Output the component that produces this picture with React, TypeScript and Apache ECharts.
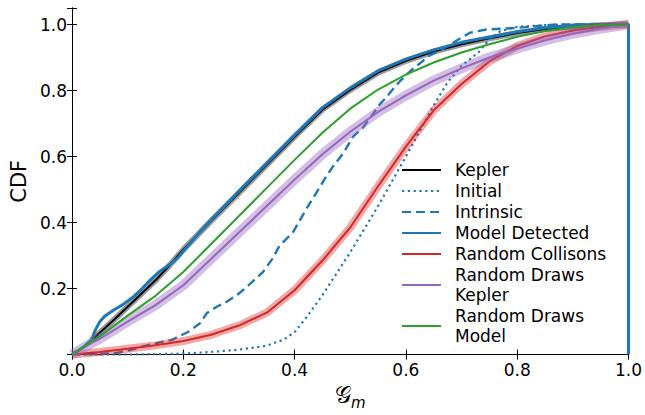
import { useEffect, useRef } from 'react';
import * as echarts from 'echarts';

const FONT = 'DejaVu Sans';

// Tick labels
const xTicks = ['0.0', '0.2', '0.4', '0.6', '0.8', '1.0'];
const yTicks = ['0.2', '0.4', '0.6', '0.8', '1.0'];

// Kepler (black) with grey uncertainty band
const keplerX = [0.035, 0.05, 0.075, 0.1, 0.125, 0.15, 0.175, 0.2, 0.25, 0.3, 0.35, 0.4, 0.45, 0.5, 0.55, 0.6, 0.65, 0.7, 0.75, 0.8, 0.85, 0.9, 0.95, 1.0];
const keplerY = [0.043, 0.066, 0.105, 0.145, 0.185, 0.225, 0.27, 0.318, 0.405, 0.49, 0.575, 0.66, 0.742, 0.802, 0.854, 0.89, 0.918, 0.94, 0.958, 0.974, 0.986, 0.994, 0.998, 1.0];

// Initial (dotted)
const initialX = [0, 0.1, 0.2, 0.25, 0.3, 0.35, 0.38, 0.4, 0.42, 0.45, 0.5, 0.55, 0.6, 0.65, 0.675, 0.7, 0.73, 0.75, 0.77, 0.8, 0.85, 0.9, 1.0];
const initialY = [0, 0.0, 0.003, 0.008, 0.015, 0.027, 0.045, 0.068, 0.11, 0.18, 0.31, 0.45, 0.6, 0.755, 0.825, 0.875, 0.915, 0.955, 0.98, 0.993, 0.998, 1.0, 1.0];

// Intrinsic (dashed)
const intrinsicX = [0, 0.05, 0.08, 0.1, 0.14, 0.18, 0.21, 0.23, 0.242, 0.26, 0.278, 0.3, 0.32, 0.343, 0.36, 0.373, 0.397, 0.421, 0.439, 0.457, 0.469, 0.487, 0.505, 0.523, 0.54, 0.553, 0.565, 0.583, 0.6, 0.613, 0.643, 0.665, 0.685, 0.715, 0.745, 0.8, 0.87, 1.0];
const intrinsicY = [0, 0.002, 0.005, 0.012, 0.03, 0.045, 0.07, 0.095, 0.125, 0.145, 0.16, 0.185, 0.214, 0.25, 0.29, 0.33, 0.37, 0.441, 0.49, 0.54, 0.57, 0.609, 0.66, 0.688, 0.727, 0.758, 0.78, 0.817, 0.846, 0.866, 0.906, 0.925, 0.945, 0.975, 0.985, 0.99, 1.0, 1.0];

// Model Detected (thick blue step CDF, drops to 0 at x = 1)
const detectedX = [0, 0.02, 0.035, 0.042, 0.05, 0.06, 0.075, 0.09, 0.11, 0.126, 0.14, 0.156, 0.175, 0.19, 0.21, 0.228, 0.25, 0.3, 0.35, 0.4, 0.45, 0.5, 0.55, 0.6, 0.65, 0.7, 0.75, 0.8, 0.85, 0.9, 0.95, 1.0, 1.0];
const detectedY = [0, 0.022, 0.045, 0.075, 0.1, 0.118, 0.135, 0.15, 0.175, 0.2, 0.225, 0.25, 0.272, 0.293, 0.333, 0.368, 0.408, 0.495, 0.58, 0.665, 0.748, 0.808, 0.86, 0.895, 0.923, 0.946, 0.962, 0.978, 0.99, 0.997, 1.0, 1.0, 0];

// Random Collisons (red) with band
const collX = [0, 0.05, 0.1, 0.15, 0.2, 0.25, 0.3, 0.35, 0.4, 0.45, 0.5, 0.55, 0.6, 0.65, 0.7, 0.75, 0.8, 0.85, 0.9, 0.95, 1.0];
const collY = [0, 0.008, 0.018, 0.028, 0.041, 0.06, 0.088, 0.127, 0.195, 0.285, 0.385, 0.51, 0.63, 0.74, 0.82, 0.888, 0.935, 0.964, 0.982, 0.993, 1.0];

// Random Draws Kepler (purple) with band
const drawsKX = [0, 0.035, 0.05, 0.1, 0.15, 0.2, 0.25, 0.3, 0.35, 0.4, 0.45, 0.5, 0.55, 0.6, 0.65, 0.7, 0.75, 0.8, 0.85, 0.9, 0.95, 1.0];
const drawsKY = [0, 0.035, 0.048, 0.1, 0.15, 0.21, 0.29, 0.37, 0.45, 0.53, 0.607, 0.675, 0.735, 0.785, 0.83, 0.867, 0.9, 0.927, 0.952, 0.972, 0.988, 1.0];

// Random Draws Model (green)
const drawsMX = [0, 0.035, 0.05, 0.1, 0.15, 0.2, 0.25, 0.3, 0.35, 0.4, 0.45, 0.5, 0.55, 0.6, 0.65, 0.7, 0.75, 0.8, 0.85, 0.9, 0.95, 1.0];
const drawsMY = [0, 0.04, 0.055, 0.118, 0.178, 0.25, 0.335, 0.42, 0.505, 0.59, 0.672, 0.745, 0.803, 0.848, 0.885, 0.915, 0.94, 0.963, 0.98, 0.992, 0.998, 1.0];

const legendNames = ['Kepler', 'Initial', 'Intrinsic', 'Model Detected', 'Random Collisons', 'Random Draws Kepler', 'Random Draws Model'];
const legendLabels: Record<string, string> = {
  'Random Draws Kepler': 'Random Draws\nKepler',
  'Random Draws Model': 'Random Draws\nModel',
};

const zip = (xs: number[], ys: number[]) => xs.map((x, i) => [x, ys[i]]);

function lineSeries(name: string, xs: number[], ys: number[], color: string, width: number, type: any = 'solid', extra: any = {}) {
  return {
    type: 'line',
    name,
    data: zip(xs, ys),
    showSymbol: false,
    symbol: 'none',
    smooth: false,
    lineStyle: { color, width, type, cap: 'butt', join: 'round' },
    itemStyle: { color },
    emphasis: { disabled: true },
    silent: true,
    ...extra,
  };
}

function bandSeries(xs: number[], ys: number[], color: string, width: number) {
  return {
    type: 'line',
    name: '__band',
    data: zip(xs, ys),
    showSymbol: false,
    symbol: 'none',
    lineStyle: { color, width, cap: 'butt', join: 'round' },
    emphasis: { disabled: true },
    silent: true,
  };
}

const axisCommon = {
  axisLine: { show: true, lineStyle: { color: '#000', width: 1 } },
  axisTick: { show: true, inside: true, length: 5, lineStyle: { color: '#000', width: 1 } },
  splitLine: { show: false },
};

export default function App() {
  const ref = useRef<HTMLDivElement>(null);
  useEffect(() => {
    const chart = echarts.init(ref.current!, null, { renderer: 'svg' });
    chart.setOption({
      animation: false,
      backgroundColor: '#fff',
      grid: { left: 72, right: 16, top: 8, bottom: 53, containLabel: false },
      xAxis: [
        {
          type: 'value', min: 0, max: 1, interval: 0.2, position: 'bottom',
          ...axisCommon,
          axisLabel: {
            fontSize: 17, color: '#000', fontFamily: FONT, margin: 7,
            formatter: (v: number) => xTicks[Math.round(v / 0.2)] ?? '',
          },
          name: '{g|𝒢}{m|m}',
          nameLocation: 'middle',
          nameGap: 23,
          nameTextStyle: {
            rich: {
              g: { fontSize: 23, fontFamily: FONT, color: '#000', lineHeight: 30, verticalAlign: 'middle' },
              m: { fontSize: 15, fontFamily: FONT, fontStyle: 'italic', color: '#000', lineHeight: 30, verticalAlign: 'bottom' },
            },
          },
        },
        {
          type: 'value', min: 0, max: 1, interval: 0.2, position: 'top',
          ...axisCommon,
          axisLabel: { show: false },
        },
      ],
      yAxis: [
        {
          type: 'value', min: 0, max: 1.05, interval: 0.2, position: 'left',
          ...axisCommon,
          axisLabel: {
            fontSize: 17, color: '#000', fontFamily: FONT, margin: 5,
            formatter: (v: number) => {
              const i = Math.round(v / 0.2) - 1;
              if (Math.abs(v - (i + 1) * 0.2) > 1e-6) return '';
              return yTicks[i] ?? '';
            },
          },
          name: 'CDF',
          nameLocation: 'middle',
          nameGap: 41,
          nameTextStyle: { fontSize: 21, fontFamily: FONT, color: '#000' },
        },
        {
          type: 'value', min: 0, max: 1.05, interval: 0.2, position: 'right',
          ...axisCommon,
          axisLabel: { show: false },
        },
      ],
      legend: {
        data: legendNames,
        orient: 'vertical',
        left: 401,
        top: 160,
        padding: 0,
        itemGap: 1,
        itemWidth: 39,
        itemHeight: 14,
        selectedMode: false,
        itemStyle: { opacity: 0 },
        formatter: (n: string) => legendLabels[n] ?? n,
        textStyle: { fontSize: 17, fontFamily: FONT, color: '#000', lineHeight: 20, padding: [0, 0, 0, 9] },
      },
      series: [
        bandSeries(keplerX, keplerY, 'rgba(120,120,120,0.75)', 6),
        lineSeries('Kepler', keplerX, keplerY, '#000000', 2),
        lineSeries('Initial', initialX, initialY, '#1f77b4', 2.2, [2.2, 3.6]),
        lineSeries('Intrinsic', intrinsicX, intrinsicY, '#1f77b4', 2.4, [9, 5]),
        lineSeries('Model Detected', detectedX, detectedY, '#1f77b4', 3, 'solid', { clip: false }),
        bandSeries(collX, collY, 'rgba(214,39,40,0.4)', 8),
        lineSeries('Random Collisons', collX, collY, '#d62728', 2),
        bandSeries(drawsKX, drawsKY, 'rgba(148,103,189,0.42)', 10),
        lineSeries('Random Draws Kepler', drawsKX, drawsKY, '#9467bd', 2),
        lineSeries('Random Draws Model', drawsMX, drawsMY, '#2ca02c', 2),
      ],
    });
    return () => chart.dispose();
  }, []);
  return <div ref={ref} style={{ position: 'absolute', left: 0, top: 0, width: 645, height: 415 }} />;
}
